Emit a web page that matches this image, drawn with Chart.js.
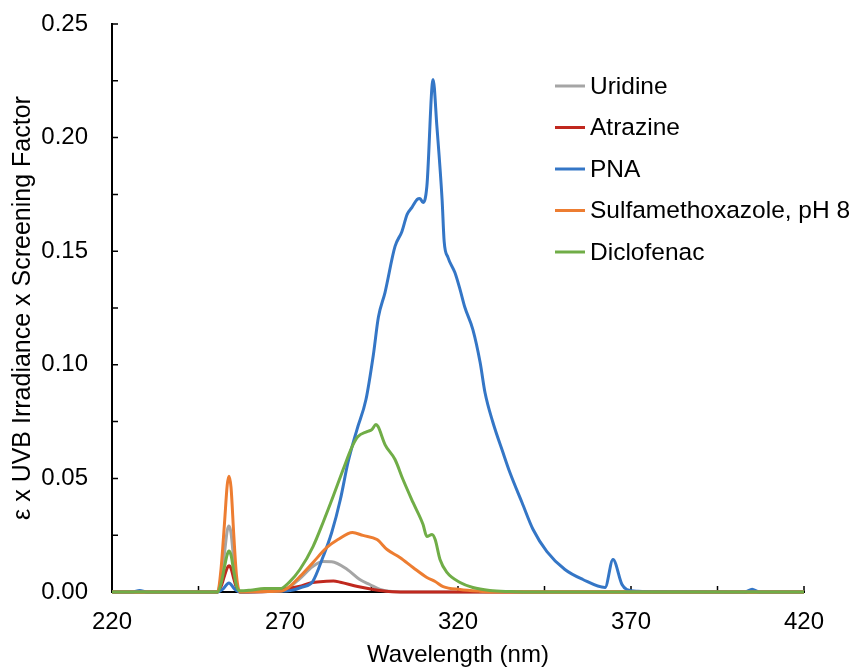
<!DOCTYPE html>
<html>
<head>
<meta charset="utf-8">
<script src="https://cdn.jsdelivr.net/npm/chart.js@4/dist/chart.umd.min.js"></script>
<style>
  html, body { margin: 0; padding: 0; background: #ffffff; }
  canvas { display: block; }
</style>
</head>
<body>
<canvas id="chart" width="856" height="668"></canvas>
<script>
// Wavelength grid (nm) and weighted absorbance for each compound
const uridineWl  = [220, 250.5, 251.5, 252.5, 253.3, 253.8, 254.4, 255.2, 256, 257, 262, 268, 271, 274, 278, 281, 283.5, 288, 291.5, 294.5, 297.5, 300, 305, 420];
const uridineVal = [0, 0, 0.006, 0.017, 0.027, 0.029, 0.026, 0.014, 0.004, 0, 0, 0.0005, 0.002, 0.0055, 0.0112, 0.0134, 0.0133, 0.0099, 0.0056, 0.0033, 0.0011, 0.0003, 0, 0];

const atrazineWl  = [220, 250.5, 251.5, 252.5, 253.3, 253.8, 254.4, 255.2, 256, 257, 265, 270, 274, 278, 282, 284, 286, 291, 295.5, 300, 305, 420];
const atrazineVal = [0, 0, 0.0023, 0.007, 0.0106, 0.0115, 0.0104, 0.0058, 0.0017, 0, 0.0002, 0.0012, 0.0024, 0.0042, 0.0047, 0.0048, 0.0043, 0.0024, 0.0011, 0.0002, 0, 0];

const pnaWl  = [220, 226, 228, 230, 250.5, 252, 253.8, 255.5, 257, 262, 268, 271.5, 275, 278, 281, 283.5, 286, 288.2, 290.8, 293.4, 295.5, 297, 298.9, 301.8, 303.8, 305.3, 306.7, 308.2, 309, 309.9, 311, 312.8, 313.9, 315.4, 316, 317.1, 319.1, 320.6, 322, 324.3, 326.4, 327.8, 330.1, 333, 335, 338.5, 341.7, 345.7, 350.9, 356.1, 362.5, 364.8, 367.4, 368.8, 372, 380, 403, 405, 407, 420];
const pnaVal = [0, 0, 0.0007, 0, 0, 0.0012, 0.004, 0.0012, 0, 0.0002, 0.0003, 0.0006, 0.0022, 0.0046, 0.0155, 0.0262, 0.0407, 0.057, 0.0715, 0.0847, 0.104, 0.121, 0.1318, 0.1521, 0.1587, 0.1662, 0.1693, 0.1728, 0.1732, 0.1714, 0.1785, 0.2256, 0.2049, 0.1728, 0.1543, 0.1473, 0.1406, 0.1331, 0.1252, 0.1155, 0.101, 0.0878, 0.0746, 0.0614, 0.0526, 0.0394, 0.0275, 0.0178, 0.0099, 0.0055, 0.002, 0.0143, 0.0033, 0.0011, 0.0003, 0.0001, 0, 0.0012, 0, 0];

const sulfaWl  = [220, 250.5, 251.5, 252.5, 253.3, 253.8, 254.4, 255.2, 256, 257, 262, 268.6, 271, 274.3, 278.1, 282.1, 285.3, 289.5, 292.5, 296.6, 299.5, 303.2, 307, 311, 313.4, 315.7, 320.6, 326, 332, 420];
const sulfaVal = [0, 0, 0.01, 0.03, 0.047, 0.051, 0.046, 0.025, 0.007, 0, 0.0002, 0.0003, 0.002, 0.0068, 0.013, 0.0196, 0.0231, 0.0262, 0.0249, 0.0231, 0.0187, 0.0152, 0.0108, 0.0064, 0.0046, 0.0024, 0.0011, 0.0004, 0, 0];

const diclofenacWl  = [220, 250.5, 251.5, 252.5, 253.3, 253.8, 254.4, 255.2, 256, 257, 260, 264, 268.6, 271.4, 274.3, 278.1, 281, 283.9, 286.8, 289.4, 291.1, 293.7, 295.1, 296.3, 296.9, 298.9, 301.8, 304.1, 307, 309.9, 311, 312.5, 313.4, 314.8, 316.8, 320.6, 324.3, 329.2, 335, 340, 420];
const diclofenacVal = [0, 0, 0.0035, 0.011, 0.0165, 0.018, 0.0162, 0.009, 0.0025, 0.0005, 0.0008, 0.0015, 0.0015, 0.0046, 0.0099, 0.02, 0.0306, 0.042, 0.0539, 0.064, 0.0684, 0.0706, 0.0715, 0.0737, 0.0728, 0.0649, 0.0583, 0.0495, 0.0394, 0.0297, 0.0244, 0.0253, 0.0231, 0.0143, 0.0086, 0.0042, 0.002, 0.0007, 0.0002, 0, 0];

const seriesNames  = ['Uridine', 'Atrazine', 'PNA', 'Sulfamethoxazole, pH 8', 'Diclofenac'];
const seriesColors = ['#A5A5A5', '#C0281E', '#3476C6', '#ED7D31', '#70AD47'];

// Axis ranges and tick spacing
const X_MIN = 220, X_MAX = 420, X_STEP = 25, X_LABEL_STEP = 50;
const Y_MIN = 0, Y_MAX = 0.25, Y_STEP = 0.025, Y_LABEL_STEP = 0.05;

const FONT = '"Liberation Sans", Arial, Helvetica, sans-serif';

function toPoints(wl, val) {
  return wl.map((w, i) => ({ x: w, y: val[i] }));
}

const seriesData = [
  toPoints(uridineWl, uridineVal),
  toPoints(atrazineWl, atrazineVal),
  toPoints(pnaWl, pnaVal),
  toPoints(sulfaWl, sulfaVal),
  toPoints(diclofenacWl, diclofenacVal)
];

// Tick marks pointing into the plot area, drawn from the scales' own ticks
const innerTicks = {
  id: 'innerTicks',
  beforeDatasetsDraw(chart) {
    const { ctx, chartArea: a, scales: { x, y } } = chart;
    const len = 6;
    ctx.save();
    ctx.strokeStyle = '#000000';
    ctx.lineWidth = 1.5;
    ctx.beginPath();
    y.ticks.forEach(t => {
      const py = y.getPixelForValue(t.value);
      ctx.moveTo(a.left, py);
      ctx.lineTo(a.left + len, py);
    });
    x.ticks.forEach(t => {
      const px = x.getPixelForValue(t.value);
      ctx.moveTo(px, a.bottom);
      ctx.lineTo(px, a.bottom - len);
    });
    ctx.stroke();
    ctx.restore();
  }
};

// Legend with short line swatches placed inside the plot area
const insideLegend = {
  id: 'insideLegend',
  afterDraw(chart) {
    const { ctx, chartArea: a } = chart;
    const x0 = a.left + 443, lineLen = 30, gap = 5;
    const y0 = a.top + 62, rowH = 41.5;
    ctx.save();
    ctx.font = '24.5px ' + FONT;
    ctx.textBaseline = 'middle';
    ctx.textAlign = 'left';
    chart.data.datasets.forEach((ds, i) => {
      const yy = y0 + i * rowH;
      ctx.strokeStyle = ds.borderColor;
      ctx.lineWidth = 3;
      ctx.beginPath();
      ctx.moveTo(x0, yy);
      ctx.lineTo(x0 + lineLen, yy);
      ctx.stroke();
      ctx.fillStyle = '#000000';
      ctx.fillText(ds.label, x0 + lineLen + gap, yy + 1);
    });
    ctx.restore();
  }
};

const datasets = seriesNames.map((name, i) => ({
  label: name,
  data: seriesData[i],
  borderColor: seriesColors[i],
  backgroundColor: seriesColors[i],
  borderWidth: 3,
  pointRadius: 0,
  fill: false,
  clip: false,
  cubicInterpolationMode: 'monotone',
  order: seriesNames.length - i
}));

function noEdgePadding(s) {
  s.paddingLeft = 0;
  s.paddingRight = 0;
  s.paddingTop = 0;
  s.paddingBottom = 0;
}

new Chart(document.getElementById('chart'), {
  type: 'line',
  data: { datasets },
  options: {
    responsive: false,
    animation: false,
    devicePixelRatio: 1,
    parsing: false,
    layout: { padding: { left: 0, top: 24, right: 52, bottom: 0 } },
    plugins: { legend: { display: false }, tooltip: { enabled: false } },
    scales: {
      x: {
        type: 'linear',
        min: X_MIN,
        max: X_MAX,
        grid: { display: false, drawTicks: false },
        border: { display: true, color: '#000000', width: 2 },
        ticks: {
          stepSize: X_STEP,
          autoSkip: false,
          maxRotation: 0,
          padding: 16,
          color: '#000000',
          font: { family: FONT, size: 24 },
          callback: v => (Math.abs((v - X_MIN) % X_LABEL_STEP) < 1e-9 ? String(v) : '')
        },
        title: {
          display: true,
          text: 'Wavelength (nm)',
          color: '#000000',
          font: { family: FONT, size: 24, lineHeight: 1 },
          padding: { top: 0, bottom: 1 }
        },
        afterFit: s => { s.height = 76; noEdgePadding(s); }
      },
      y: {
        type: 'linear',
        min: Y_MIN,
        max: Y_MAX,
        grid: { display: false, drawTicks: false },
        border: { display: true, color: '#000000', width: 2 },
        ticks: {
          stepSize: Y_STEP,
          autoSkip: false,
          padding: 24,
          color: '#000000',
          font: { family: FONT, size: 24 },
          callback: v => {
            const r = v / Y_LABEL_STEP;
            return Math.abs(r - Math.round(r)) < 1e-6 ? v.toFixed(2) : '';
          }
        },
        title: {
          display: true,
          text: 'ε x UVB Irradiance x Screening Factor',
          color: '#000000',
          font: { family: FONT, size: 25, lineHeight: 1 },
          padding: { top: 11, bottom: 0 }
        },
        afterFit: s => { s.width = 112; noEdgePadding(s); }
      }
    }
  },
  plugins: [innerTicks, insideLegend]
});
</script>
</body>
</html>
